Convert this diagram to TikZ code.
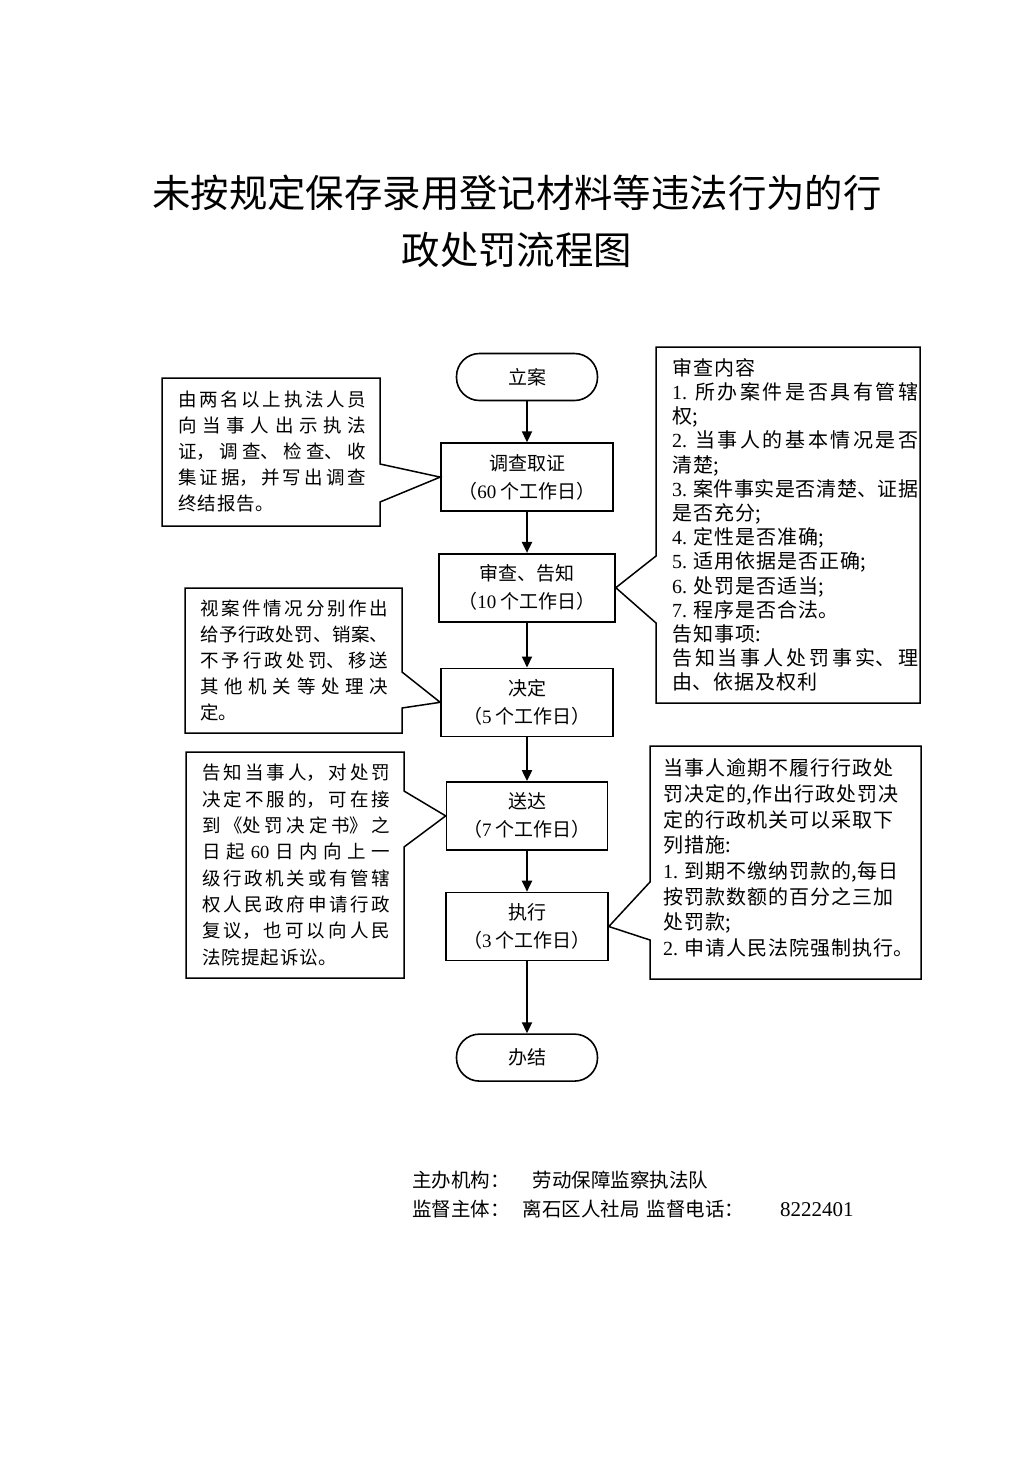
\documentclass[tikz,border=0pt]{standalone}
\usepackage{fontspec}
\setmainfont{Noto Sans CJK SC}
\newfontfamily\latinfont{Liberation Serif}
\newcommand{\latnum}[1]{{\latinfont #1}}
\XeTeXlinebreaklocale "zh"
\XeTeXlinebreakskip=1pt plus 5pt minus 1.5pt
\usetikzlibrary{positioning, arrows.meta}

\begin{document}
\begin{tikzpicture}[x=1pt, y=-1pt,
	flowbox/.style={rectangle, draw=black, line width=1.6pt, minimum width=172pt, minimum height=68pt, align=center, font=\fontsize{19}{28}\selectfont},
	endbox/.style={flowbox, rounded corners=23pt, minimum width=141pt, minimum height=47pt},
	notebox/.style={rectangle, draw=none, inner sep=0pt, outer sep=0pt},
	notetext/.style={anchor=west, inner sep=0pt, align=justify, font=\fontsize{18.5}{26}\selectfont},
	noteline/.style={line width=1.5pt, line join=miter},
	flowarrow/.style={-{Triangle[length=11pt,width=10pt]}, line width=2pt}]
	\useasboundingbox[fill=white] (0,0) rectangle (1033,1460);

	% title
	\node[align=center, font=\fontsize{38.4}{57}\selectfont] (title) at (517,221.5) {未按规定保存录用登记材料等违法行为的行\\政处罚流程图};

	% main flow
	\node[endbox] (lian) at (527,377) {立案};
	\node[flowbox] (diaocha) [below=41pt of lian] {调查取证\\（\latnum{60} 个工作日）};
	\node[flowbox, minimum width=176pt] (shencha) [below=41pt of diaocha] {审查、告知\\（\latnum{10} 个工作日）};
	\node[flowbox] (jueding) [below=45pt of shencha] {决定\\（\latnum{5} 个工作日）};
	\node[flowbox, minimum width=161pt] (songda) [below=44pt of jueding] {送达\\（\latnum{7} 个工作日）};
	\node[flowbox, minimum width=162pt] (zhixing) [below=41pt of songda] {执行\\（\latnum{3} 个工作日）};
	\node[endbox] (banjie) [below=72pt of zhixing] {办结};

	\draw[flowarrow] (lian) -- (diaocha);
	\draw[flowarrow] (diaocha) -- (shencha);
	\draw[flowarrow] (shencha) -- (jueding);
	\draw[flowarrow] (jueding) -- (songda);
	\draw[flowarrow] (songda) -- (zhixing);
	\draw[flowarrow] (zhixing) -- (banjie);

	% left notes
	\node[notebox, minimum width=218pt, minimum height=148pt] (diaochanote) at (271,452) {};
	\node[notetext, text width=188pt] (diaochatext) at ([xshift=16pt]diaochanote.west) {由两名以上执法人员\linebreak
		向当事人出示执法\linebreak
		证，调查、检查、收\linebreak
		集证据，并写出调查\linebreak
		终结报告。};
	\draw[noteline] (diaochanote.north west) -- (diaochanote.north east) -- ([yshift=-86pt]diaochanote.north east) -- (diaocha.west) -- ([yshift=-124pt]diaochanote.north east) -- (diaochanote.south east) -- (diaochanote.south west) -- cycle;

	\node[notebox, minimum width=217pt, minimum height=145pt] (juedingnote) at (293.5,660.5) {};
	\node[notetext, text width=188pt] (juedingtext) at ([xshift=15pt]juedingnote.west) {视案件情况分别作出\linebreak
		给予行政处罚、销案、\linebreak
		不予行政处罚、移送\linebreak
		其他机关等处理决\linebreak
		定。};
	\draw[noteline] (juedingnote.north west) -- (juedingnote.north east) -- ([yshift=-84pt]juedingnote.north east) -- (jueding.west) -- ([yshift=-120pt]juedingnote.north east) -- (juedingnote.south east) -- (juedingnote.south west) -- cycle;

	\node[notebox, minimum width=218pt, minimum height=226pt] (songdanote) at (295,865) {};
	\node[notetext, text width=188pt, font=\fontsize{18.5}{26.3}\selectfont] (songdatext) at ([xshift=16pt]songdanote.west) {告知当事人，对处罚\linebreak
		决定不服的，可在接\linebreak
		到《处罚决定书》之\linebreak
		日起 \latnum{60} 日内向上一\linebreak
		级行政机关或有管辖\linebreak
		权人民政府申请行政\linebreak
		复议，也可以向人民\linebreak
		法院提起诉讼。};
	\draw[noteline] (songdanote.north west) -- (songdanote.north east) -- ([yshift=-39pt]songdanote.north east) -- (songda.west) -- ([yshift=-95pt]songdanote.north east) -- (songdanote.south east) -- (songdanote.south west) -- cycle;

	% right notes
	\node[notebox, minimum width=264pt, minimum height=356pt] (shenchanote) at (788,525) {};
	\node[notetext, text width=246pt, font=\fontsize{20}{24.2}\selectfont] (shenchatext) at ([xshift=16pt]shenchanote.west) {审查内容\\
		\latnum{1.} 所办案件是否具有管辖\linebreak
		权;\\
		\latnum{2.} 当事人的基本情况是否\linebreak
		清楚;\\
		\latnum{3.} 案件事实是否清楚、证据\linebreak
		是否充分;\\
		\latnum{4.} 定性是否准确;\\
		\latnum{5.} 适用依据是否正确;\\
		\latnum{6.} 处罚是否适当;\\
		\latnum{7.} 程序是否合法。\\
		告知事项:\\
		告知当事人处罚事实、理\linebreak
		由、依据及权利};
	\draw[noteline] (shenchanote.north east) -- (shenchanote.north west) -- ([yshift=-209pt]shenchanote.north west) -- (shencha.east) -- ([yshift=-276pt]shenchanote.north west) -- (shenchanote.south west) -- (shenchanote.south east) -- cycle;

	\node[notebox, minimum width=271pt, minimum height=233pt] (zhixingnote) at (785.5,862.5) {};
	\node[notetext, text width=250pt, font=\fontsize{20}{25.7}\selectfont] (zhixingtext) at ([xshift=13pt, yshift=4.5pt]zhixingnote.west) {当事人逾期不履行行政处\\
		罚决定的,作出行政处罚决\\
		定的行政机关可以采取下\\
		列措施:\\
		\latnum{1.} 到期不缴纳罚款的,每日\\
		按罚款数额的百分之三加\\
		处罚款;\\
		\latnum{2.} 申请人民法院强制执行。};
	\draw[noteline] (zhixingnote.north east) -- (zhixingnote.north west) -- ([yshift=-136pt]zhixingnote.north west) -- (zhixing.east) -- ([yshift=-194pt]zhixingnote.north west) -- (zhixingnote.south west) -- (zhixingnote.south east) -- cycle;

	% footer
	\node[anchor=west, inner sep=0pt, font=\fontsize{19.5}{24}\selectfont] (host) at (412,1180) {主办机构：\hspace{23pt}劳动保障监察执法队};
	\node[anchor=west, inner sep=0pt, font=\fontsize{19.5}{24}\selectfont] (supervisor) at (412,1209) {监督主体：\hspace{13pt}离石区人社局\hspace{7pt}监督电话：\hspace{36pt}{\fontsize{21}{24}\selectfont\latnum{8222401}}};
\end{tikzpicture}
\end{document}
